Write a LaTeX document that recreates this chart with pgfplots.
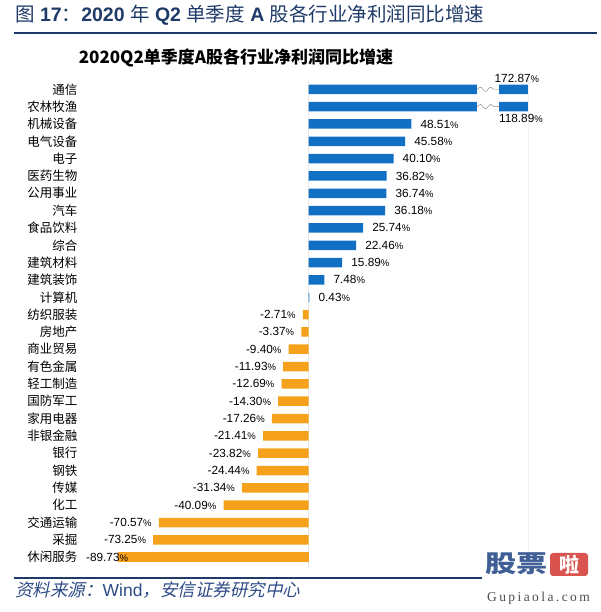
\documentclass[border=0pt]{standalone}
\usepackage{pgfplots}
\pgfplotsset{compat=1.18}
\usepackage{pgfplotstable}
\usepackage{fontspec}
\setmainfont{Liberation Sans}
\newfontfamily\cjk{Noto Sans CJK SC}
\newfontfamily\cjkit[FakeSlant=0.22]{Noto Sans CJK SC}
\newfontfamily\wm[LetterSpace=18]{Liberation Serif}
\usetikzlibrary{decorations.pathmorphing}
\definecolor{barblue}{HTML}{1170C4}
\definecolor{barorange}{HTML}{F5A11C}
\definecolor{navy}{HTML}{1F3A68}
\definecolor{footblue}{HTML}{2E4B86}
\definecolor{wmblue}{HTML}{3F5F96}
\definecolor{wmred}{HTML}{D9534F}

\pgfplotstableread{
i v lab
2 48.51 48.51
3 45.58 45.58
4 40.10 40.10
5 36.82 36.82
6 36.74 36.74
7 36.18 36.18
8 25.74 25.74
9 22.46 22.46
10 15.89 15.89
11 7.48 7.48
12 0.43 0.43
}\posdata

\pgfplotstableread{
i v lab
13 -2.71 -2.71
14 -3.37 -3.37
15 -9.40 -9.40
16 -11.93 -11.93
17 -12.69 -12.69
18 -14.30 -14.30
19 -17.26 -17.26
20 -21.41 -21.41
21 -23.82 -23.82
22 -24.44 -24.44
23 -31.34 -31.34
24 -40.09 -40.09
25 -70.57 -70.57
26 -73.25 -73.25
}\negdata

\pgfplotstableread{
i v lab
27 -89.73 -89.73
}\lastdata

\newcommand{\pct}{{\fontsize{9.5}{9.5}\selectfont\%}}

\begin{document}
\begin{tikzpicture}[x=1pt,y=1pt]
\path[use as bounding box] (0,0) rectangle (600,612);

% header
\node[anchor=west, text=navy, inner sep=0pt, font=\fontsize{19.5}{19.5}\selectfont] at (15,597)
 {{\cjk 图} {\bfseries 17}{\cjk ：}{\bfseries 2020} {\cjk 年} {\bfseries Q2} {\cjk 单季度} {\bfseries A} {\cjk 股各行业净利润同比增速}};
\draw[navy, line width=2pt] (14,579) -- (597,579);

\node[font=\cjk\bfseries\fontsize{17}{17}\selectfont] at (236,554) {2020Q2单季度A股各行业净利润同比增速};

\begin{axis}[
  at={(81.66pt,44.4pt)}, anchor=south west,
  scale only axis, width=451.56pt, height=488.7pt,
  xmin=-107, xmax=106, ymin=-0.6, ymax=27.6, y dir=reverse,
  axis line style={draw=none}, xtick=\empty,
  ytick={0,...,27},
  yticklabels={通信,农林牧渔,机械设备,电气设备,电子,医药生物,公用事业,汽车,食品饮料,综合,建筑材料,建筑装饰,计算机,纺织服装,房地产,商业贸易,有色金属,轻工制造,国防军工,家用电器,非银金融,银行,钢铁,传媒,化工,交通运输,采掘,休闲服务},
  yticklabel style={font=\cjk\fontsize{12.5}{12.5}\selectfont, anchor=east, inner sep=0pt, xshift=-4pt},
  major tick length=0pt, clip=false,
]
\draw[gray!18] (axis cs:0,-0.6) -- (axis cs:0,27.6);
\draw[gray!12] (axis cs:103.5,-0.6) -- (axis cs:103.5,27.6);

\addplot[xbar, bar shift=0pt, bar width=9.5pt, fill=barblue, draw=none]
  coordinates {(103.5,0) (103.5,1)};

\addplot[xbar, bar shift=0pt, bar width=9.5pt, fill=barblue, draw=none,
  point meta=explicit symbolic,
  nodes near coords={\pgfplotspointmeta\pct},
  every node near coord/.append style={anchor=west, inner sep=0pt, xshift=9pt, text=black, font=\fontsize{11.8}{11.8}\selectfont}]
  table[x=v, y=i, meta=lab] {\posdata};

\addplot[xbar, bar shift=0pt, bar width=9.5pt, fill=barorange, draw=none,
  point meta=explicit symbolic,
  nodes near coords={\pgfplotspointmeta\pct},
  every node near coord/.append style={anchor=east, inner sep=0pt, xshift=-7pt, text=black, font=\fontsize{11.8}{11.8}\selectfont}]
  table[x=v, y=i, meta=lab] {\negdata};

\addplot[xbar, bar shift=0pt, bar width=9.5pt, fill=barorange, draw=none,
  point meta=explicit symbolic,
  nodes near coords={\pgfplotspointmeta\pct},
  every node near coord/.append style={anchor=east, inner sep=0pt, xshift=10pt, text=black, font=\fontsize{11.8}{11.8}\selectfont}]
  table[x=v, y=i, meta=lab] {\lastdata};

% axis breaks for the two capped bars
\fill[white] (axis cs:79.5,-0.35) rectangle (axis cs:89.9,0.35);
\fill[white] (axis cs:79.5,0.65) rectangle (axis cs:89.9,1.35);
\draw[gray, decorate, decoration={snake, amplitude=2.2pt, segment length=10.4pt}] (axis cs:79.5,0) -- (axis cs:89.9,0);
\draw[gray, decorate, decoration={snake, amplitude=2.2pt, segment length=10.4pt}] (axis cs:79.5,1) -- (axis cs:89.9,1);
\node[inner sep=0pt, font=\fontsize{11.8}{11.8}\selectfont] at (axis cs:98.3,-0.6) {172.87\pct};
\node[inner sep=0pt, font=\fontsize{11.8}{11.8}\selectfont] at (axis cs:100.2,1.67) {118.89\pct};
\end{axis}

% footer
\draw[navy, line width=1.5pt] (14,34) -- (482,34);
\node[anchor=west, inner sep=0pt, text=footblue] at (15,22)
 {\cjkit\fontsize{17.5}{17.5}\selectfont 资料来源：{\normalfont\fontsize{17.5}{17.5}\selectfont Wind}，安信证券研究中心};

% watermark
\node[anchor=west, inner sep=0pt, text=wmblue, xscale=1.3, font=\cjk\bfseries\fontsize{24}{24}\selectfont] at (485,48) {股票};
\node[fill=wmred, rounded corners=3pt, minimum width=38pt, minimum height=23pt, inner sep=0pt, text=white, font=\cjk\bfseries\fontsize{20}{20}\selectfont] at (569,47.5) {啦};
\node[inner sep=0pt, text=black!70, font=\wm\fontsize{13.5}{13.5}\selectfont] at (538.5,14) {Gupiaola.com};
\end{tikzpicture}
\end{document}
